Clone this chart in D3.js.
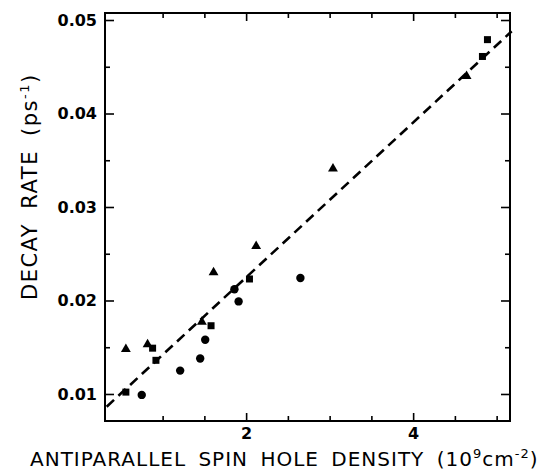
<!DOCTYPE html>
<html><head><meta charset="utf-8">
<script src="https://cdn.jsdelivr.net/npm/d3@7"></script>
<style>
html,body{margin:0;padding:0;background:#fff;}
svg{display:block;}
text{font-family:"DejaVu Sans",sans-serif;fill:#000;}
</style></head>
<body>
<svg id="c" width="547" height="475"></svg>
<script>
// Data
const triX = [0.56, 0.82, 1.47, 1.61, 2.12, 3.04, 4.64];
const triY = [0.0148, 0.0153, 0.0177, 0.0230, 0.0258, 0.0341, 0.0440];
const sqX = [0.56, 0.88, 0.92, 1.58, 2.04, 4.83, 4.89];
const sqY = [0.0102, 0.0149, 0.0136, 0.0173, 0.0223, 0.0461, 0.0479];
const cirX = [0.75, 1.21, 1.45, 1.51, 1.86, 1.91, 2.65];
const cirY = [0.0099, 0.0125, 0.0138, 0.0158, 0.0212, 0.0199, 0.0224];
const fitX = [0.33, 5.18];
const fitY = [0.00864, 0.0488];
const xTicks = [1, 1.5, 2, 2.5, 3, 3.5, 4, 4.5, 5];
const xLabels = [2, 4];
const yTicks = [0.01, 0.015, 0.02, 0.025, 0.03, 0.035, 0.04, 0.045, 0.05];
const yLabels = [0.01, 0.02, 0.03, 0.04, 0.05];

const svg = d3.select("#c");
const L = 105, R = 510, T = 13, B = 421;
const x = d3.scaleLinear().domain([0.31, 5.16]).range([L, R]);
const y = d3.scaleLinear().domain([0.00711, 0.05075]).range([B, T]);

function styleAxis(g){
  g.select(".domain").remove();
  g.selectAll("line").attr("stroke","#000").attr("stroke-width",1.6);
  g.selectAll("text").attr("font-size",16).attr("font-weight","bold")
    .attr("font-family","DejaVu Sans, sans-serif");
}
const isMajX = d => xLabels.includes(d);
const isMajY = d => yLabels.some(v => Math.abs(v-d) < 1e-9);

// bottom
svg.append("g").attr("transform",`translate(0,${B})`)
  .call(d3.axisBottom(x).tickValues(xTicks).tickSize(0).tickPadding(7)
    .tickFormat(d => isMajX(d) ? d3.format("d")(d) : ""))
  .call(styleAxis)
  .call(g => g.selectAll(".tick line").attr("y2", d => isMajX(d) ? -8 : -5));
// top
svg.append("g").attr("transform",`translate(0,${T})`)
  .call(d3.axisTop(x).tickValues(xTicks).tickSize(0).tickFormat(""))
  .call(styleAxis)
  .call(g => g.selectAll(".tick line").attr("y2", d => isMajX(d) ? 8 : 5));
// left
svg.append("g").attr("transform",`translate(${L},0)`)
  .call(d3.axisLeft(y).tickValues(yTicks).tickSize(0).tickPadding(8)
    .tickFormat(d => isMajY(d) ? d3.format(".2f")(d) : ""))
  .call(styleAxis)
  .call(g => g.selectAll(".tick line").attr("x2", d => isMajY(d) ? 9 : 5));
// right
svg.append("g").attr("transform",`translate(${R},0)`)
  .call(d3.axisRight(y).tickValues(yTicks).tickSize(0).tickFormat(""))
  .call(styleAxis)
  .call(g => g.selectAll(".tick line").attr("x2", d => isMajY(d) ? -9 : -5));

// frame
svg.append("rect").attr("x",L).attr("y",T).attr("width",R-L).attr("height",B-T)
  .attr("fill","none").attr("stroke","#000").attr("stroke-width",2);

// fit line
const fit = fitX.map((v,i)=>[v, fitY[i]]);
svg.append("path").datum(fit)
  .attr("d", d3.line().x(d=>x(d[0])).y(d=>y(d[1])))
  .attr("fill","none").attr("stroke","#000").attr("stroke-width",2.6)
  .attr("stroke-dasharray","10,6");

// markers
const tri = triX.map((v,i)=>[v, triY[i]]);
const sq = sqX.map((v,i)=>[v, sqY[i]]);
const cir = cirX.map((v,i)=>[v, cirY[i]]);
svg.append("g").selectAll("path").data(tri).join("path")
  .attr("transform", d=>`translate(${x(d[0])},${y(d[1])})`)
  .attr("d", d3.symbol(d3.symbolTriangle, 42)).attr("fill","#000");
svg.append("g").selectAll("rect").data(sq).join("rect")
  .attr("x", d=>x(d[0])-3.5).attr("y", d=>y(d[1])-3.5)
  .attr("width",7).attr("height",7).attr("fill","#000");
svg.append("g").selectAll("circle").data(cir).join("circle")
  .attr("cx", d=>x(d[0])).attr("cy", d=>y(d[1])).attr("r",4.2).attr("fill","#000");

// axis titles
const xt = svg.append("text").attr("x",30).attr("y",466).attr("font-size",20)
  .attr("letter-spacing",1).attr("word-spacing",5);
xt.append("tspan").text("ANTIPARALLEL SPIN HOLE DENSITY (10");
xt.append("tspan").attr("dy",-8).attr("font-size",13).text("9");
xt.append("tspan").attr("dy",8).text("cm");
xt.append("tspan").attr("dy",-8).attr("font-size",13).text("-2");
xt.append("tspan").attr("dy",8).text(")");

const yt = svg.append("text").attr("transform","translate(37,300) rotate(-90)").attr("font-size",21)
  .attr("letter-spacing",1.5).attr("word-spacing",6);
yt.append("tspan").text("DECAY RATE (ps");
yt.append("tspan").attr("dy",-8).attr("font-size",13).text("-1");
yt.append("tspan").attr("dy",8).text(")");
</script>
</body></html>
